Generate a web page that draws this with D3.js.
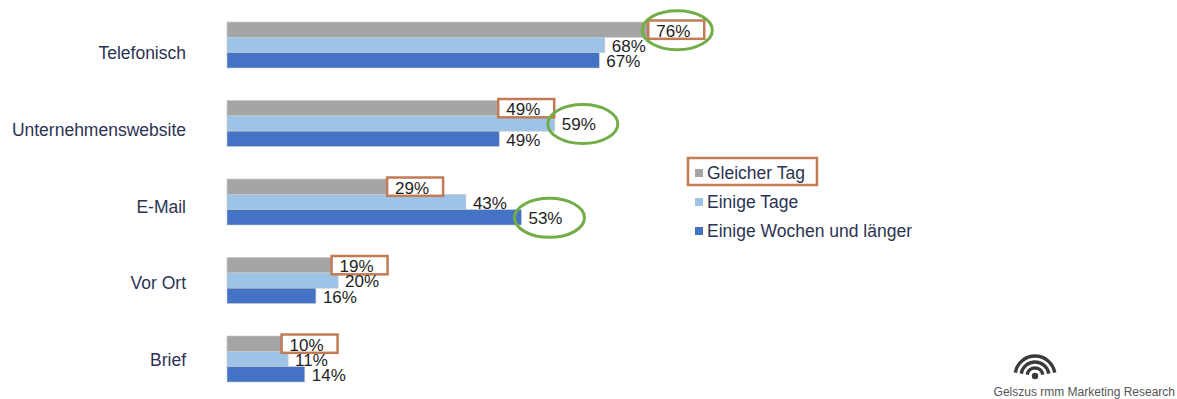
<!DOCTYPE html>
<html>
<head>
<meta charset="utf-8">
<script src="https://cdn.jsdelivr.net/npm/d3@7"></script>
<style>
  body { margin: 0; background: #fff; }
  svg { display: block; font-family: "Liberation Sans", Arial, sans-serif; }
</style>
</head>
<body>
<div id="chart"></div>
<script>
const categories = ["Telefonisch", "Unternehmenswebsite", "E-Mail", "Vor Ort", "Brief"];
const series = ["Gleicher Tag", "Einige Tage", "Einige Wochen und länger"];
const gleicher_tag = [76, 49, 29, 19, 10];
const einige_tage = [68, 59, 43, 20, 11];
const einige_wochen = [67, 49, 53, 16, 14];
// the value circled in green for each category
const circled = [
  ["Telefonisch", "Gleicher Tag"],
  ["Unternehmenswebsite", "Einige Tage"],
  ["E-Mail", "Einige Wochen und länger"],
];

const width = 1177, height = 399;
const colors = { "Gleicher Tag": "#a5a5a5", "Einige Tage": "#9dc3e6", "Einige Wochen und länger": "#4472c4" };
const text_color = "#2c3352";
const box_color = "#c27b55";
const ring_color = "#72ad47";

const values = [gleicher_tag, einige_tage, einige_wochen];
const rows = categories.map((c, i) => ({
  category: c,
  bars: series.map((s, j) => ({ category: c, series: s, value: values[j][i] })),
}));

const svg = d3.select("#chart").append("svg").attr("width", width).attr("height", height);

const X = d3.scaleLinear().domain([0, 100]).range([227, 227 + 555.6]);
const Y = d3.scaleBand().domain(categories).range([22, 382]).paddingInner(1 - 46 / 78.5).paddingOuter(0);
const Y_inner = d3.scaleBand().domain(series).range([0, Y.bandwidth()]);
const label_Y = d3.scalePoint().domain(categories).range([53, 360]);

// category labels
svg.append("g")
  .selectAll("text")
  .data(categories)
  .join("text")
  .attr("x", 186)
  .attr("y", (d) => label_Y(d))
  .attr("dy", "0.35em")
  .attr("text-anchor", "end")
  .attr("fill", text_color)
  .style("font-size", "17.5px")
  .text((d) => d);

const groups = svg.append("g")
  .selectAll("g.group")
  .data(rows)
  .join("g")
  .classed("group", true)
  .attr("transform", (d) => `translate(0, ${Y(d.category)})`);

groups.selectAll("rect.bar")
  .data((d) => d.bars)
  .join("rect")
  .classed("bar", true)
  .attr("x", X(0))
  .attr("y", (d) => Y_inner(d.series))
  .attr("width", (d) => X(d.value) - X(0))
  .attr("height", Y_inner.bandwidth())
  .attr("fill", (d) => colors[d.series])
  .attr("stroke", "#c8c8c8")
  .attr("stroke-width", 0.6);

// orange boxes behind the "Gleicher Tag" labels
groups.selectAll("rect.box")
  .data((d) => d.bars.filter((b) => b.series === series[0]))
  .join("rect")
  .classed("box", true)
  .attr("x", (d) => X(d.value) - 1)
  .attr("y", (d) => Y_inner(d.series) - 1.5)
  .attr("width", 56)
  .attr("height", Y_inner.bandwidth() + 3)
  .attr("fill", "#fff")
  .attr("stroke", box_color)
  .attr("stroke-width", 2.5);

groups.selectAll("text.value")
  .data((d) => d.bars)
  .join("text")
  .classed("value", true)
  .attr("x", (d) => X(d.value) + 7)
  .attr("y", (d) => Y_inner(d.series) + Y_inner.bandwidth() / 2 + 1)
  .attr("dy", "0.35em")
  .attr("fill", "#1e1e1e")
  .style("font-size", "17px")
  .text((d) => `${d.value}%`);

// green rings around the highest value
groups.selectAll("ellipse.ring")
  .data((d) => d.bars.filter((b) => circled.some(([c, s]) => c === b.category && s === b.series)))
  .join("ellipse")
  .classed("ring", true)
  .attr("cx", (d) => X(d.value) + 28)
  .attr("cy", (d) => Y_inner(d.series) + Y_inner.bandwidth() / 2 + 0.5)
  .attr("rx", 35)
  .attr("ry", 19.5)
  .attr("fill", "none")
  .attr("stroke", ring_color)
  .attr("stroke-width", 3);

// legend
const legend = svg.append("g").attr("transform", "translate(695, 173)");
legend.append("rect")
  .attr("x", -7).attr("y", -15).attr("width", 129).attr("height", 27)
  .attr("fill", "none").attr("stroke", box_color).attr("stroke-width", 2.5);
const legend_items = legend.selectAll("g.item")
  .data(series)
  .join("g")
  .classed("item", true)
  .attr("transform", (d, i) => `translate(0, ${i * 29})`);
legend_items.append("rect")
  .attr("x", 0).attr("y", -4).attr("width", 8).attr("height", 8)
  .attr("fill", (d) => colors[d]);
legend_items.append("text")
  .attr("x", 12).attr("dy", "0.35em")
  .attr("fill", text_color)
  .style("font-size", "17.5px")
  .text((d) => d);

// logo
const logo = svg.append("g").attr("transform", "translate(1035, 376)");
logo.append("circle").attr("cx", 0).attr("cy", 0).attr("r", 3.2).attr("fill", "#3a3a3a");
[8, 14, 20].forEach((r) => {
  logo.append("path")
    .attr("d", d3.arc().innerRadius(r - 1.7).outerRadius(r + 1.7).startAngle(-1.4).endAngle(1.4)())
    .attr("fill", "#3a3a3a");
});
svg.append("text")
  .attr("x", 1175).attr("y", 396)
  .attr("text-anchor", "end")
  .attr("fill", "#555")
  .style("font-size", "12px")
  .text("Gelszus rmm Marketing Research");
</script>
</body>
</html>
